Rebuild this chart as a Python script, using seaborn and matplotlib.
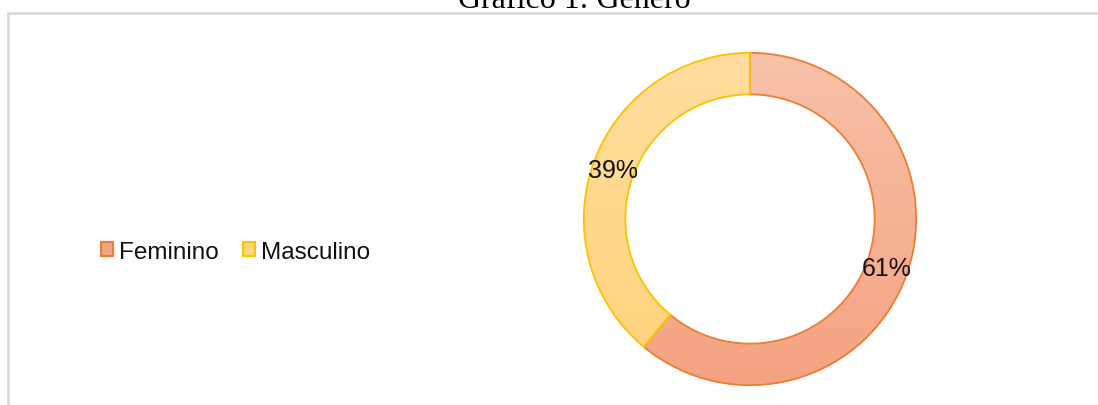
import numpy as np
import matplotlib
matplotlib.use("Agg")
import matplotlib.pyplot as plt
import matplotlib.patches as mpatches
import seaborn as sns

# data
categories = ["Feminino", "Masculino"]
shares = [61, 39]

face_top = ["#f8c2aa", "#ffdd9e"]
face_bottom = ["#f4a381", "#ffd47a"]
edge_colors = ["#ed7d31", "#ffc000"]

sns.set_theme(style="white")
plt.rcParams["font.family"] = ["Liberation Sans", "DejaVu Sans"]

fig = plt.figure(figsize=(10.98, 4.06), dpi=100, facecolor="white")

# frame lines (top and left) like the source document
W, H = 1098, 406
fig.add_artist(plt.Line2D([8 / W, 1], [1 - 14 / H, 1 - 14 / H], color="#d9d9d9", lw=2))
fig.add_artist(plt.Line2D([8 / W, 8 / W], [0, 1 - 14 / H], color="#d9d9d9", lw=2))

# title, clipped at the top edge
fig.text(574 / W, 1 - 8 / H, "Gráfico 1: Gênero", ha="center", va="baseline",
         fontsize=23, family=["Liberation Serif", "DejaVu Serif"], color="black")

ax = fig.add_axes([583 / W, 19 / H, 334 / W, 334 / H])
wedges, _, autotexts = ax.pie(
    shares, startangle=90, counterclock=False, radius=1,
    autopct="%d%%", pctdistance=0.875,
    wedgeprops=dict(width=0.25, edgecolor="none"),
    textprops=dict(fontsize=18, color="#111111"),
)

# gradient fills clipped to each wedge
grad = np.linspace(0, 1, 256).reshape(-1, 1)
for w, top, bot, ec in zip(wedges, face_top, face_bottom, edge_colors):
    w.set_facecolor(bot)
    cmap = matplotlib.colors.LinearSegmentedColormap.from_list("g", [top, bot])
    im = ax.imshow(grad, cmap=cmap, extent=[-1, 1, -1, 1], origin="upper",
                   aspect="auto", zorder=w.get_zorder() + 0.1)
    im.set_clip_path(w)
    ax.add_patch(mpatches.Wedge(w.center, w.r, w.theta1, w.theta2, width=w.width,
                                facecolor="none", edgecolor=ec, lw=1.3,
                                zorder=w.get_zorder() + 0.2))
for t in autotexts:
    t.set_zorder(10)

ax.set_xlim(-1.005, 1.005)
ax.set_ylim(-1.005, 1.005)
ax.set_aspect("equal")
ax.axis("off")

handles = [mpatches.Patch(facecolor=fc, edgecolor=ec, lw=1.5)
           for fc, ec in zip(face_bottom, edge_colors)]
fig.legend(handles, categories, loc="center left",
           bbox_to_anchor=(79 / W, 1 - 253 / H), ncol=2, frameon=False,
           fontsize=17.5, handlelength=0.5, handleheight=0.5, handletextpad=0.25,
           columnspacing=1.0, labelcolor="#111111")

fig.savefig("out.png", dpi=100, facecolor="white")
